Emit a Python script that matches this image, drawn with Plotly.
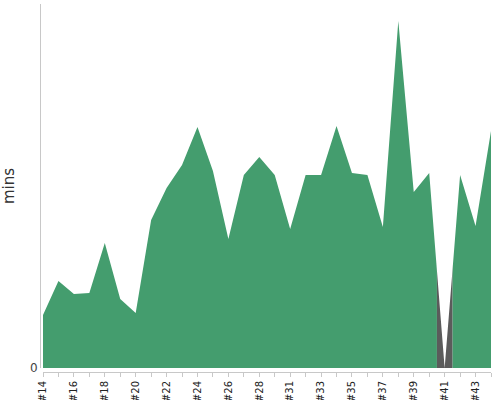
import plotly.graph_objects as go

# sprint labels (no #30 in the source) and minutes per sprint
sprints = ["#14", "#15", "#16", "#17", "#18", "#19", "#20", "#21", "#22", "#23",
           "#24", "#25", "#26", "#27", "#28", "#29", "#31", "#32", "#33", "#34",
           "#35", "#36", "#37", "#38", "#39", "#40", "#41", "#42", "#43", "#44"]
minutes = [13.25, 21.75, 18.5, 18.75, 31.25, 17.25, 13.75, 37, 45, 50.75,
           60.25, 49.25, 32.25, 48.25, 52.75, 48.25, 34.75, 48.25, 48.25, 60.5,
           48.75, 48.25, 35.25, 86.75, 44, 48.75, 0, 48.25, 35.5, 59.25]
missing_sprint = "#41"  # drawn in grey

GREEN = "#449d6e"
GREY = "#5b5b5b"
AXIS = "#c8c8c8"

idx = list(range(len(sprints)))
tick_text = [s if i % 2 == 0 else "" for i, s in enumerate(sprints)]
n = len(sprints) - 1

# x domain starts a little right of the y axis line
x0 = 3 / 451
gi = sprints.index(missing_sprint)


def frac(v):
    return x0 + (1 - x0) * v / n


fig = go.Figure()
fig.add_trace(go.Scatter(
    x=idx, y=minutes, mode="lines", fill="tozeroy",
    line=dict(width=0, color=GREEN), fillcolor=GREEN,
    hoverinfo="skip", showlegend=False,
))
# same series on a narrow axis so it is clipped to the missing sprint's zone
fig.add_trace(go.Scatter(
    x=idx, y=minutes, mode="lines", fill="tozeroy",
    line=dict(width=0, color=GREY), fillcolor=GREY,
    xaxis="x2", yaxis="y",
    hoverinfo="skip", showlegend=False,
))

fig.update_layout(
    width=500, height=400,
    margin=dict(l=40, r=9, t=4, b=28),
    plot_bgcolor="white", paper_bgcolor="white",
    font=dict(family="DejaVu Sans", color="#333333"),
    xaxis=dict(
        domain=[x0, 1], range=[0, n], anchor="free", position=0,
        tickmode="array", tickvals=idx, ticktext=tick_text,
        tickangle=-90, tickfont=dict(size=10, color="#222222"),
        ticks="outside", ticklen=4, tickcolor=AXIS,
        showline=True, linecolor=AXIS, linewidth=1,
        showgrid=False, zeroline=False, fixedrange=True, automargin=False,
    ),
    xaxis2=dict(
        domain=[frac(gi - 0.5), frac(gi + 0.5)], range=[gi - 0.5, gi + 0.5],
        anchor="y", visible=False, showgrid=False, zeroline=False,
        automargin=False,
    ),
    yaxis=dict(
        domain=[4 / 368, 1], range=[0, 91], anchor="free", position=0,
        tickmode="array", tickvals=[0], ticktext=["0"],
        tickfont=dict(size=12, color="#444444"), ticks="",
        showline=True, linecolor=AXIS, linewidth=1,
        showgrid=False, zeroline=False, automargin=False,
        title=dict(text="mins", font=dict(size=15, color="#333333")),
    ),
)

fig.write_html(
    "out.html",
    config={"displayModeBar": False},
    post_script="document.body.style.margin = '0';",
)
